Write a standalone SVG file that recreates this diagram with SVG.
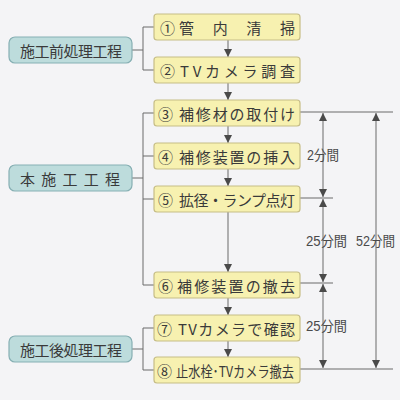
<svg xmlns="http://www.w3.org/2000/svg" width="400" height="400" viewBox="0 0 400 400">
<defs>
<marker id="ah" viewBox="0 0 8 10" refX="8" refY="5" markerWidth="8" markerHeight="10" markerUnits="userSpaceOnUse" orient="auto-start-reverse">
<path d="M0,1 L8,5 L0,9 Z" fill="#4a4a4a"/>
</marker>
<style>
.step{fill:#f7f1b0;stroke:#c6bd86;stroke-width:1.2}
.phase{fill:#bddcdc;stroke:#86afb3;stroke-width:1.2}
.t{font-family:"Noto Sans CJK JP","Liberation Sans",sans-serif;font-size:15px;fill:#3a3a3a;dominant-baseline:central}
.d{font-family:"Liberation Sans","Noto Sans CJK JP",sans-serif;font-size:14px;fill:#4a4a4a;dominant-baseline:central}
.ln{stroke:#6a6a6a;stroke-width:1;fill:none}
.ar{stroke:#6a6a6a;stroke-width:1;fill:none;marker-end:url(#ah)}
.dim{stroke:#6a6a6a;stroke-width:1;fill:none;marker-start:url(#ah);marker-end:url(#ah)}
</style>
</defs>
<rect width="400" height="400" fill="#f4f4f6"/>

<g id="connectors">
<!-- brackets -->
<path class="ln" d="M132,50 H143 M143,27 V70 M143,27 H154 M143,70 H154"/>
<path class="ln" d="M132,178 H143 M143,113 V285 M143,113 H154 M143,156 H154 M143,199 H154 M143,285 H154"/>
<path class="ln" d="M132,349 H143 M143,328 V370 M143,328 H154 M143,370 H154"/>
<!-- flow arrows -->
<path class="ar" d="M228,40 V57"/>
<path class="ar" d="M228,83 V100"/>
<path class="ar" d="M228,126 V143"/>
<path class="ar" d="M228,169 V186"/>
<path class="ar" d="M228,212 V272"/>
<path class="ar" d="M228,298 V315"/>
<path class="ar" d="M228,341 V357"/>
<!-- extension lines -->
<path class="ln" d="M300,112 H393 M300,198 H333 M300,283 H333 M300,369 H393"/>
<!-- dimension lines -->
<path class="dim" d="M323,113 V197"/>
<path class="dim" d="M323,199 V282"/>
<path class="dim" d="M323,284 V368"/>
<path class="dim" d="M376,113 V368"/>
</g>

<g id="phase1"><rect class="phase" x="9" y="37" width="123" height="26" rx="6"/><text class="t" x="20" y="50" textLength="102" lengthAdjust="spacing">施工前処理工程</text></g>
<g id="phase2"><rect class="phase" x="9" y="165" width="123" height="26" rx="6"/><text class="t" x="20" y="178" textLength="100" lengthAdjust="spacing">本施工工程</text></g>
<g id="phase3"><rect class="phase" x="9" y="336" width="123" height="26" rx="6"/><text class="t" x="20" y="349" textLength="102" lengthAdjust="spacing">施工後処理工程</text></g>

<g id="s1"><rect class="step" x="154" y="14" width="146" height="26" rx="3"/><text class="t" x="160" y="27">①</text><text class="t" x="179" y="27" textLength="116" lengthAdjust="spacing">管内清掃</text></g>
<g id="s2"><rect class="step" x="154" y="57" width="146" height="26" rx="3"/><text class="t" x="160" y="70">②</text><text class="t" x="180" y="70" textLength="115" lengthAdjust="spacing">TVカメラ調査</text></g>
<g id="s3"><rect class="step" x="154" y="100" width="146" height="26" rx="3"/><text class="t" x="158" y="113">③</text><text class="t" x="179" y="113" textLength="116" lengthAdjust="spacing">補修材の取付け</text></g>
<g id="s4"><rect class="step" x="154" y="143" width="146" height="26" rx="3"/><text class="t" x="158" y="156">④</text><text class="t" x="179" y="156" textLength="116" lengthAdjust="spacing">補修装置の挿入</text></g>
<g id="s5"><rect class="step" x="154" y="186" width="146" height="26" rx="3"/><text class="t" x="158" y="199">⑤</text><text class="t" x="179" y="199" textLength="116" lengthAdjust="spacing">拡径・ランプ点灯</text></g>
<g id="s6"><rect class="step" x="154" y="272" width="146" height="26" rx="3"/><text class="t" x="158" y="285">⑥</text><text class="t" x="177" y="285" textLength="118" lengthAdjust="spacing">補修装置の撤去</text></g>
<g id="s7"><rect class="step" x="154" y="315" width="146" height="26" rx="3"/><text class="t" x="157" y="328">⑦</text><text class="t" x="178" y="328" textLength="117" lengthAdjust="spacing">TVカメラで確認</text></g>
<g id="s8"><rect class="step" x="154" y="357" width="146" height="26" rx="3"/><text class="t" x="157" y="370">⑧</text><text class="t" x="176" y="370" textLength="118" lengthAdjust="spacingAndGlyphs">止水栓･TVカメラ撤去</text></g>

<g id="labels">
<text class="d" x="307" y="155" textLength="32" lengthAdjust="spacingAndGlyphs">2分間</text>
<text class="d" x="306" y="241" textLength="41" lengthAdjust="spacingAndGlyphs">25分間</text>
<text class="d" x="356" y="241" textLength="39" lengthAdjust="spacingAndGlyphs">52分間</text>
<text class="d" x="306" y="326" textLength="41" lengthAdjust="spacingAndGlyphs">25分間</text>
</g>
</svg>
